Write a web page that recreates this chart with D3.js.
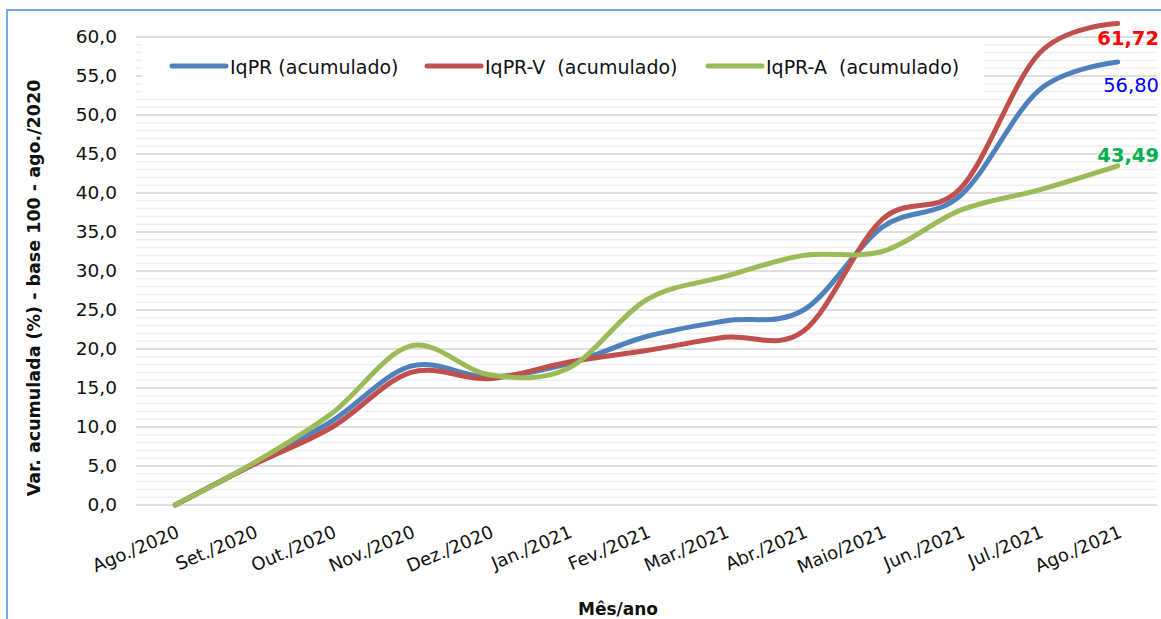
<!DOCTYPE html>
<html><head><meta charset="utf-8">
<script src="https://cdn.jsdelivr.net/npm/d3@7"></script>
<style>
html,body{margin:0;padding:0;background:#fff;}
text{font-family:"DejaVu Sans",Verdana,sans-serif;fill:#111;}
</style></head>
<body><svg id="c" width="1161" height="619"></svg>
<script>
const months = ["Ago./2020","Set./2020","Out./2020","Nov./2020","Dez./2020","Jan./2021","Fev./2021","Mar./2021","Abr./2021","Maio/2021","Jun./2021","Jul./2021","Ago./2021"];
const iqpr  = [0, 5.3, 10.8, 17.8, 16.4, 18.1, 21.6, 23.6, 25.0, 35.6, 39.7, 53.2, 56.80];
const iqprV = [0, 5.2, 10.0, 17.0, 16.2, 18.3, 19.8, 21.5, 22.3, 36.6, 40.6, 57.9, 61.72];
const iqprA = [0, 5.4, 11.8, 20.4, 16.7, 17.5, 26.3, 29.3, 32.0, 32.5, 37.8, 40.4, 43.49];
const seriesNames = ["IqPR (acumulado)", "IqPR-V  (acumulado)", "IqPR-A  (acumulado)"];
const yTicks = [0,5,10,15,20,25,30,35,40,45,50,55,60];
const endLabels = ["56,80","61,72","43,49"];

const svg = d3.select("#c");
const L = 136, R = 1157, T = 37, B = 505;
const x = d3.scaleBand().domain(months).range([L, R]);
const xc = m => x(m) + x.bandwidth()/2;
const y = d3.scaleLinear().domain([0,60]).range([B, T]);

// border
svg.append("rect").attr("x",7).attr("y",10).attr("width",1170).attr("height",640)
  .attr("fill","none").attr("stroke","#4a8fd0").attr("stroke-width",1.5);

// minor grid
svg.append("g").selectAll("line").data(d3.range(0,61,1).filter(v=>v%5!==0)).join("line")
  .attr("x1",L).attr("x2",R).attr("y1",d=>y(d)).attr("y2",d=>y(d))
  .attr("stroke","#efefef").attr("stroke-width",1.5);
// major grid
svg.append("g").selectAll("line").data(yTicks).join("line")
  .attr("x1",L).attr("x2",R).attr("y1",d=>y(d)).attr("y2",d=>y(d))
  .attr("stroke","#d4d4d4").attr("stroke-width",1.5);

// y axis labels
const yAxis = d3.axisLeft(y).tickValues(yTicks).tickSize(0).tickPadding(0)
  .tickFormat(d => d3.format(".1f")(d).replace(".",","));
const gy = svg.append("g").attr("transform",`translate(117,0)`).call(yAxis);
gy.select(".domain").remove();
gy.selectAll("text").attr("font-size",18.5).attr("font-family","DejaVu Sans").attr("fill","#111");

// x axis labels
const xAxis = d3.axisBottom(x).tickSize(0).tickPadding(0);
const gx = svg.append("g").attr("transform",`translate(0,524)`).call(xAxis);
gx.select(".domain").remove();
gx.selectAll("text").attr("font-size",18).attr("font-family","DejaVu Sans").attr("fill","#111")
  .attr("text-anchor","end").attr("dy",null).attr("y",0)
  .attr("dominant-baseline","hanging")
  .attr("transform","rotate(-23)");

// axis titles
svg.append("text").attr("transform","translate(40,288) rotate(-90)")
  .attr("text-anchor","middle").attr("font-size",17.5).attr("font-weight","bold")
  .text("Var. acumulada (%) - base 100 - ago./2020");
svg.append("text").attr("x",618).attr("y",615).attr("text-anchor","middle")
  .attr("font-size",17).attr("font-weight","bold").text("Mês/ano");

// lines
const colors = ["#4f81bd","#c0504d","#9bbb59"];
const data = [iqpr, iqprV, iqprA];
const line = d3.line().x((d,i)=>xc(months[i])).y(d=>y(d)).curve(d3.curveCardinal.tension(0));
svg.append("g").selectAll("path").data(data).join("path")
  .attr("d", line).attr("fill","none")
  .attr("stroke",(d,i)=>colors[i]).attr("stroke-width",5)
  .attr("stroke-linecap","round").attr("stroke-linejoin","round");

// legend
svg.append("rect").attr("x",142).attr("y",43).attr("width",842).attr("height",49).attr("fill","#fff");
const legX = [172, 427, 708];
const lg = svg.append("g");
seriesNames.forEach((n,i)=>{
  lg.append("line").attr("x1",legX[i]).attr("x2",legX[i]+54).attr("y1",66).attr("y2",66)
    .attr("stroke",colors[i]).attr("stroke-width",5).attr("stroke-linecap","round");
  lg.append("text").attr("x",legX[i]+58).attr("y",74).attr("font-size",19)
    .style("white-space","pre").text(n);
});

// end labels
const endCol = ["#0000ff","#ff0000","#00b050"];
const endOff = [30, 21, -4];
const endW = ["normal","bold","bold"];
data.forEach((s,i)=>{
  svg.append("text").attr("x",1159).attr("y",y(s[s.length-1])+endOff[i])
    .attr("text-anchor","end").attr("font-size",19.5).attr("font-weight",endW[i])
    .style("fill",endCol[i]).text(endLabels[i]);
});
</script></body></html>
